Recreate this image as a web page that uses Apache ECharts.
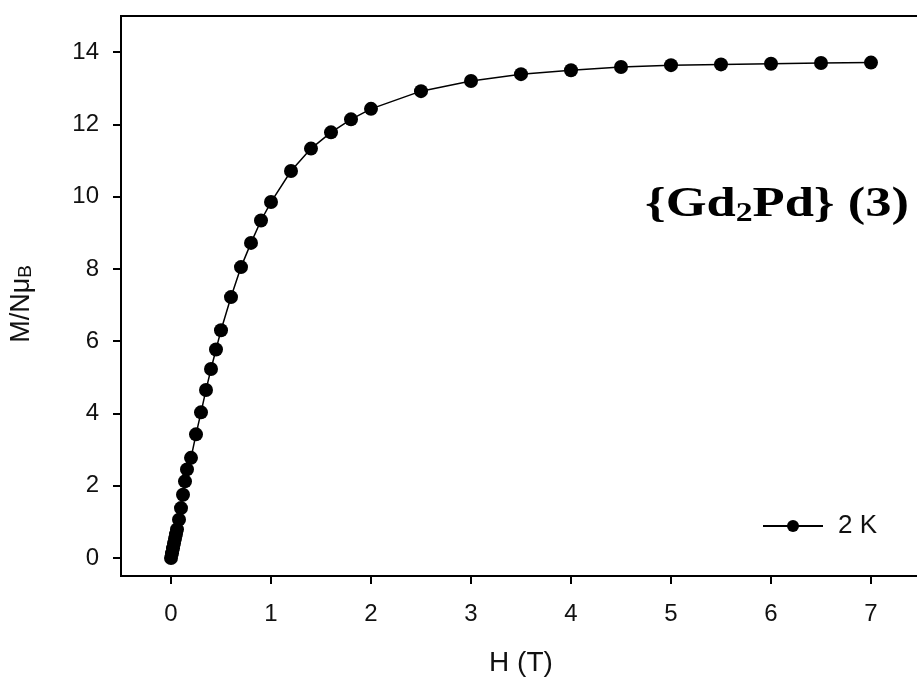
<!DOCTYPE html>
<html>
<head>
<meta charset="utf-8">
<script src="https://cdn.jsdelivr.net/npm/echarts@6/dist/echarts.min.js"></script>
<style>
  html, body { margin: 0; padding: 0; background: #fff; }
  #chart { width: 917px; height: 682px; }
</style>
</head>
<body>
<div id="chart"></div>
<script>
// field (T) and magnetisation (N muB) at 2 K
var fieldT = [0, 0.01, 0.02, 0.03, 0.04, 0.05, 0.06, 0.08, 0.1, 0.12, 0.14, 0.16, 0.2, 0.25, 0.3, 0.35,
  0.4, 0.45, 0.5, 0.6, 0.7, 0.8, 0.9, 1.0, 1.2, 1.4, 1.6, 1.8, 2.0, 2.5, 3.0, 3.5, 4.0, 4.5, 5.0,
  5.5, 6.0, 6.5, 7.0];
var magnet = [0, 0.13, 0.27, 0.4, 0.53, 0.66, 0.79, 1.06, 1.38, 1.75, 2.12, 2.45, 2.77, 3.42, 4.03, 4.65,
  5.23, 5.77, 6.3, 7.22, 8.05, 8.72, 9.34, 9.85, 10.71, 11.33, 11.78, 12.14, 12.43, 12.92, 13.2, 13.39, 13.5, 13.59, 13.64,
  13.66, 13.68, 13.7, 13.71];
var xTicks = [0, 1, 2, 3, 4, 5, 6, 7];
var yTicks = [0, 2, 4, 6, 8, 10, 12, 14];

var pts = fieldT.map(function (x, i) { return [x, magnet[i]]; });

var chart = echarts.init(document.getElementById('chart'));
var tickFont = { fontFamily: 'Liberation Sans', fontSize: 24, color: '#111' };

chart.setOption({
  animation: false,
  backgroundColor: '#fff',
  grid: {
    left: 121, top: 16, width: 800, height: 560,
    outerBoundsMode: 'none',
    show: true, borderColor: '#000', borderWidth: 2
  },
  xAxis: {
    type: 'value', min: -0.5, max: 7.5,
    name: 'H (T)', nameLocation: 'middle', nameGap: 73,
    nameTextStyle: { fontFamily: 'Liberation Sans', fontSize: 28, color: '#111' },
    axisLine: { onZero: false, lineStyle: { color: '#000', width: 2 } },
    axisTick: { customValues: xTicks, length: 8, lineStyle: { color: '#000', width: 2 } },
    axisLabel: Object.assign({ customValues: xTicks, margin: 26 }, tickFont),
    splitLine: { show: false }
  },
  yAxis: {
    type: 'value', min: -0.5, max: 15,
    name: '{a|M/Nμ}{b|B}', nameLocation: 'middle', nameGap: 86, nameRotate: 90,
    nameTextStyle: {
      fontFamily: 'Liberation Sans', color: '#111', padding: [0, 16, 0, 0],
      rich: {
        a: { fontFamily: 'Liberation Sans', fontSize: 27, color: '#111', lineHeight: 30, verticalAlign: 'bottom' },
        b: { fontFamily: 'Liberation Sans', fontSize: 19, color: '#111', lineHeight: 30, verticalAlign: 'bottom', padding: [10, 0, 0, 0] }
      }
    },
    axisLine: { onZero: false, lineStyle: { color: '#000', width: 2 } },
    axisTick: { customValues: yTicks, length: 8, lineStyle: { color: '#000', width: 2 } },
    axisLabel: Object.assign({ customValues: yTicks, margin: 22 }, tickFont),
    splitLine: { show: false }
  },
  legend: {
    left: 762, top: 513, padding: 0,
    itemWidth: 60, itemHeight: 15,
    textStyle: { fontFamily: 'Liberation Sans', fontSize: 26, color: '#111', padding: [0, 0, 0, 10] },
    data: ['2 K']
  },
  graphic: [{
    type: 'text',
    x: 645, y: 228,
    scaleX: 1.25,
    style: {
      text: '{Gd{s|2}Pd} (3)',
      fontFamily: 'Liberation Serif', fontWeight: 'bold', fontSize: 42, fill: '#000',
      lineHeight: 46, verticalAlign: 'bottom',
      rich: {
        s: { fontFamily: 'Liberation Serif', fontWeight: 'bold', fontSize: 27, fill: '#000', lineHeight: 46, verticalAlign: 'bottom', padding: [15, 0, 0, 0] }
      }
    }
  }],
  series: [{
    name: '2 K',
    type: 'line',
    data: pts,
    symbol: 'circle',
    symbolSize: 14,
    lineStyle: { color: '#000', width: 1.5 },
    itemStyle: { color: '#000' }
  }]
});
</script>
</body>
</html>
